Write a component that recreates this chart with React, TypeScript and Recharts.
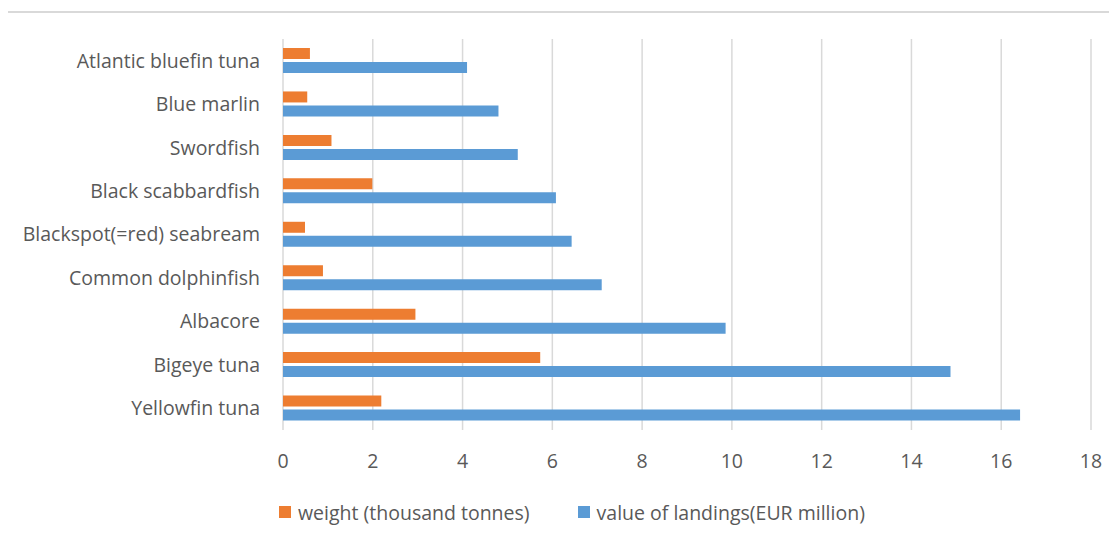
import { BarChart, Bar, XAxis, YAxis, CartesianGrid } from "recharts";

const species = [
  "Atlantic bluefin tuna",
  "Blue marlin",
  "Swordfish",
  "Black scabbardfish",
  "Blackspot(=red) seabream",
  "Common dolphinfish",
  "Albacore",
  "Bigeye tuna",
  "Yellowfin tuna",
];
const weight = [0.6, 0.54, 1.08, 1.99, 0.49, 0.89, 2.95, 5.73, 2.19];
const landingsValue = [4.1, 4.8, 5.23, 6.08, 6.43, 7.1, 9.86, 14.87, 16.42];
const xTicks = [0, 2, 4, 6, 8, 10, 12, 14, 16, 18];

const data = species.map((name, i) => ({ name, weight: weight[i], value: landingsValue[i] }));

const FONT = "'Open Sans', sans-serif";
const TEXT = "#595959";
const FS = 19.5;

const legendItems = [
  { label: "weight (thousand tonnes)", color: "#ED7D31" },
  { label: "value of landings(EUR million)", color: "#5B9BD5" },
];

export default function App() {
  return (
    <div style={{ position: "relative", width: 1117, height: 543, margin: -8, overflow: "hidden", background: "#fff" }}>
      <div
        style={{
          position: "absolute",
          left: 4,
          top: 11,
          width: 1200,
          height: 600,
          borderLeft: "2px solid #d9d9d9",
          borderTop: "2px solid #d9d9d9",
        }}
      />
      <div style={{ position: "absolute", left: 0, top: 0 }}>
        <BarChart
          width={1117}
          height={543}
          data={data}
          layout="vertical"
          margin={{ top: 39, right: 26, bottom: 0, left: 0 }}
          barSize={11}
          barGap={3}
        >
          <CartesianGrid horizontal={false} stroke="#d9d9d9" strokeWidth={1.5} />
          <XAxis
            type="number"
            domain={[0, 18]}
            ticks={xTicks}
            axisLine={false}
            tickLine={false}
            tickSize={0}
            tickMargin={24}
            height={113}
            tick={{ fill: TEXT, fontSize: FS, fontFamily: FONT }}
          />
          <YAxis
            type="category"
            dataKey="name"
            width={283}
            axisLine={false}
            tickLine={false}
            tickSize={0}
            tickMargin={23}
            interval={0}
            tick={{ fill: TEXT, fontSize: FS, fontFamily: FONT }}
          />
          <Bar dataKey="weight" name="weight (thousand tonnes)" fill="#ED7D31" isAnimationActive={false} />
          <Bar dataKey="value" name="value of landings(EUR million)" fill="#5B9BD5" isAnimationActive={false} />
        </BarChart>
      </div>
      <div
        style={{
          position: "absolute",
          left: 279,
          top: 498,
          height: 28,
          display: "flex",
          alignItems: "center",
          fontFamily: FONT,
          fontSize: FS,
          color: TEXT,
          whiteSpace: "nowrap",
        }}
      >
        {legendItems.map((it) => (
          <div key={it.label} style={{ display: "flex", alignItems: "center", marginRight: 48 }}>
            <span style={{ width: 12, height: 12, background: it.color, display: "inline-block", marginRight: 7 }} />
            <span>{it.label}</span>
          </div>
        ))}
      </div>
    </div>
  );
}
